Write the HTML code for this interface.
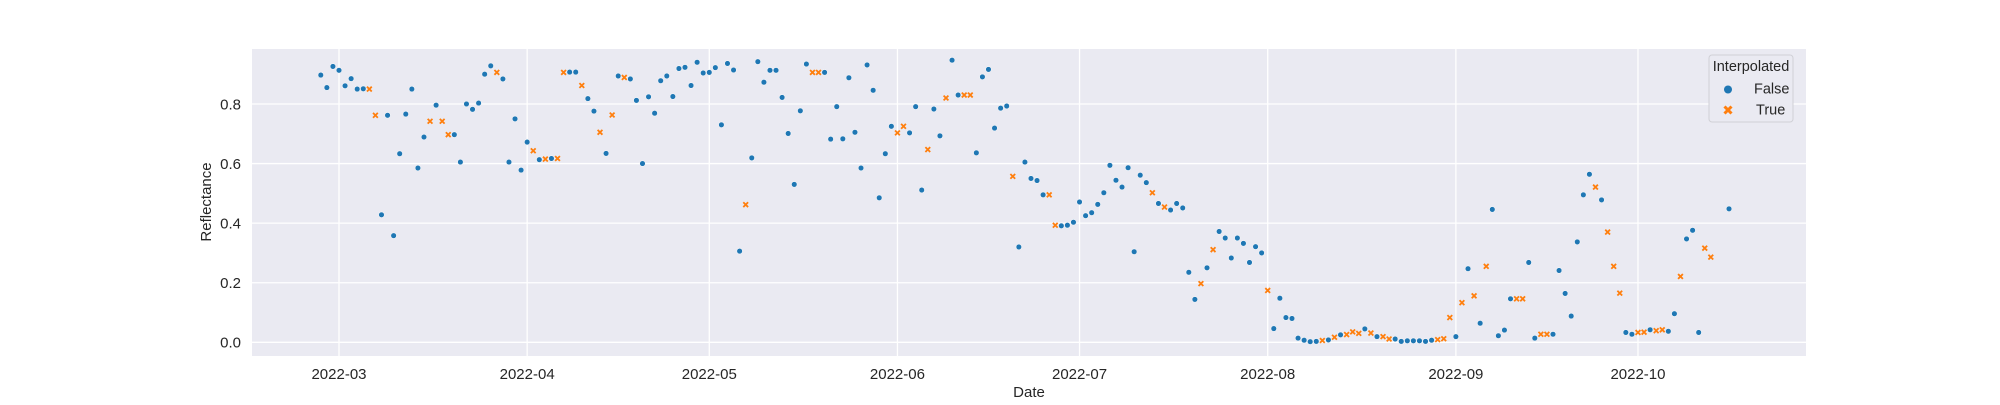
<!DOCTYPE html>
<html><head><meta charset="utf-8"><style>
html,body{margin:0;padding:0;background:#fff;}
svg text{font-family:"Liberation Sans",Arial,sans-serif;fill:#262626;}
</style></head><body>
<svg id="chart" width="2000" height="400" viewBox="0 0 2000 400">
<rect x="252" y="49" width="1554" height="307" fill="#eaeaf2"/>
<g id="grid"></g><g id="ticks"></g><g id="marks"></g>
<text x="1029" y="397" font-size="15" text-anchor="middle">Date</text>
<text transform="translate(211,202) rotate(-90)" font-size="15" text-anchor="middle">Reflectance</text>
<g>
<rect x="1709" y="55" width="84" height="67" rx="3" fill="#eaeaf2" stroke="#d0d0d6" stroke-width="1"/>
<text x="1751" y="71" font-size="14.5" text-anchor="middle">Interpolated</text>
<circle cx="1728" cy="89.5" r="4" fill="#1f77b4"/>
<text x="1754" y="93.5" font-size="14.5">False</text>
<g><path d="M1724.5,106.5 L1731.5,113.5 M1731.5,106.5 L1724.5,113.5" stroke="#ff7f0e" stroke-width="3"/></g>
<text x="1756" y="114.5" font-size="14.5">True</text>
</g>
</svg>
<script>
// day offsets from 2022-03-01, starting at -3
const startDay = -3;
const values = [0.897,0.855,0.926,0.913,0.861,0.885,0.850,0.851,0.850,0.762,0.428,0.762,0.358,0.633,0.766,0.850,0.585,0.689,0.742,0.796,0.742,0.697,0.697,0.605,0.800,0.782,0.803,0.900,0.928,0.906,0.884,0.605,0.750,0.578,0.672,0.643,0.613,0.615,0.617,0.617,0.906,0.907,0.907,0.862,0.818,0.776,0.705,0.634,0.763,0.894,0.889,0.884,0.812,0.600,0.824,0.769,0.878,0.894,0.825,0.919,0.923,0.862,0.940,0.904,0.906,0.922,0.730,0.936,0.914,0.306,0.462,0.619,0.942,0.873,0.913,0.913,0.822,0.701,0.530,0.777,0.934,0.906,0.906,0.906,0.682,0.791,0.683,0.888,0.705,0.585,0.931,0.846,0.485,0.633,0.725,0.703,0.725,0.703,0.791,0.511,0.647,0.783,0.693,0.820,0.947,0.830,0.830,0.830,0.636,0.891,0.916,0.719,0.786,0.793,0.557,0.320,0.605,0.550,0.543,0.495,0.495,0.393,0.391,0.393,0.403,0.471,0.425,0.435,0.463,0.502,0.594,0.544,0.521,0.586,0.304,0.561,0.536,0.502,0.466,0.454,0.444,0.466,0.451,0.235,0.144,0.197,0.250,0.311,0.372,0.350,0.283,0.350,0.332,0.268,0.321,0.300,0.174,0.046,0.148,0.083,0.080,0.014,0.007,0.002,0.003,0.006,0.008,0.017,0.025,0.026,0.035,0.030,0.045,0.031,0.019,0.019,0.011,0.011,0.003,0.005,0.005,0.005,0.003,0.007,0.009,0.012,0.083,0.019,0.133,0.247,0.156,0.064,0.255,0.446,0.022,0.041,0.146,0.146,0.146,0.268,0.014,0.027,0.027,0.027,0.241,0.164,0.088,0.337,0.495,0.564,0.521,0.478,0.370,0.255,0.165,0.033,0.027,0.033,0.034,0.042,0.039,0.042,0.037,0.096,0.221,0.347,0.376,0.033,0.316,0.286,null,null,0.448];
const interpDays = [5,6,15,17,18,26,32,34,36,37,40,43,45,47,67,78,79,92,93,97,100,103,104,111,117,118,134,136,142,144,153,162,164,166,167,168,170,172,173,181,182,183,185,187,189,194,195,198,199,207,209,210,211,214,215,217,218,221,225,226];
const xTickDays = [0,31,61,92,122,153,184,214];
const xTickLabels = ["2022-03","2022-04","2022-05","2022-06","2022-07","2022-08","2022-09","2022-10"];
const yTicks = [0.0,0.2,0.4,0.6,0.8];
const yTickLabels = ["0.0","0.2","0.4","0.6","0.8"];

const NS="http://www.w3.org/2000/svg";
const L=252,R=1806,T=49,B=356;
const xs=d=>339+d*6.07;
const ys=v=>342.3-v*297.9;
function mk(tag,attrs,parent){const e=document.createElementNS(NS,tag);for(const k in attrs)e.setAttribute(k,attrs[k]);parent.appendChild(e);return e;}
const grid=document.getElementById('grid'),ticks=document.getElementById('ticks'),marks=document.getElementById('marks');
xTickDays.forEach((d,i)=>{
  const x=xs(d);
  const g=mk('line',{x1:x,x2:x,y1:T,y2:B,stroke:'#fff','stroke-width':1.3},grid);
  
  
  const t=mk('text',{x:x,y:379,'font-size':15,'text-anchor':'middle'},ticks);
  t.textContent=xTickLabels[i];
  
  
});
yTicks.forEach((v,i)=>{
  const y=ys(v);
  const g=mk('line',{x1:L,x2:R,y1:y,y2:y,stroke:'#fff','stroke-width':1.3},grid);
  
  
  const t=mk('text',{x:241,y:y+5.3,'font-size':15,'text-anchor':'end'},ticks);
  t.textContent=yTickLabels[i];
  
  
});
values.forEach((v,i)=>{
  if(v===null)return;
  const day=startDay+i;
  const x=xs(day),y=ys(v);
  if(interpDays.indexOf(day)>=0){
    const p=mk('path',{d:`M${x-2.4},${y-2.4}L${x+2.4},${y+2.4}M${x+2.4},${y-2.4}L${x-2.4},${y+2.4}`,stroke:'#ff7f0e','stroke-width':1.8},marks);
    
    
  } else {
    const c=mk('circle',{cx:x,cy:y,r:2.8,fill:'#1f77b4',stroke:'#fff','stroke-width':0.5},marks);
    
    
  }
});
</script>
</body></html>
